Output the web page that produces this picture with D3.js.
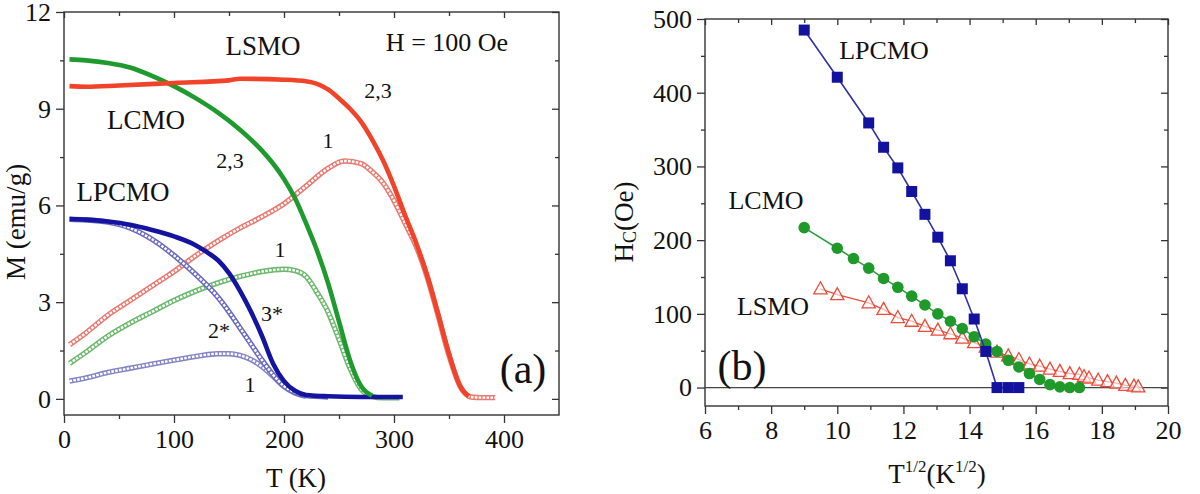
<!DOCTYPE html>
<html><head><meta charset="utf-8">
<script src="https://cdn.jsdelivr.net/npm/d3@7"></script>
<style>
html,body{margin:0;padding:0;background:#fff;}
svg{display:block;}
</style></head>
<body>
<svg id="chart" width="1200" height="494"></svg>
<script>
// ---------- Panel (a): M vs T ----------
const aTempTicks = [0, 100, 200, 300, 400];
const aTempMinor = [50, 150, 250, 350];
const aMTicks = [0, 3, 6, 9, 12];
const aMMinor = [1.5, 4.5, 7.5, 10.5];

// LSMO
const lsmoFC_T = [5, 20, 50, 100, 150, 160, 200, 220, 230, 240, 250, 260, 270, 280, 290, 300, 310, 320, 330, 340, 350, 360, 368];
const lsmoFC_M = [9.7, 9.68, 9.72, 9.8, 9.88, 9.93, 9.9, 9.85, 9.77, 9.6, 9.32, 9.0, 8.6, 8.05, 7.4, 6.6, 5.7, 4.85, 3.85, 2.65, 1.4, 0.4, 0.08];
const lsmoZFC_T = [5, 20, 40, 60, 80, 100, 120, 140, 160, 180, 200, 220, 240, 255, 270, 280, 290, 300, 310, 320, 330, 340, 350, 360, 370, 380, 392];
const lsmoZFC_M = [1.68, 2.05, 2.6, 3.05, 3.5, 3.95, 4.45, 4.9, 5.3, 5.65, 6.05, 6.6, 7.15, 7.38, 7.3, 7.05, 6.7, 6.15, 5.45, 4.75, 3.8, 2.6, 1.35, 0.4, 0.06, 0.04, 0.04];
// LCMO
const lcmoFC_T = [5, 20, 40, 60, 80, 100, 120, 140, 160, 180, 190, 200, 210, 220, 230, 240, 250, 260, 270, 280];
const lcmoFC_M = [10.53, 10.5, 10.42, 10.28, 10.02, 9.7, 9.32, 8.88, 8.35, 7.7, 7.3, 6.82, 6.22, 5.45, 4.6, 3.6, 2.4, 1.2, 0.4, 0.1];
const lcmoZFC_T = [5, 20, 40, 60, 80, 100, 120, 140, 160, 180, 200, 210, 220, 230, 240, 250, 260, 270, 280, 290, 305];
const lcmoZFC_M = [1.1, 1.45, 1.95, 2.35, 2.7, 3.05, 3.35, 3.6, 3.8, 3.95, 4.02, 3.98, 3.8, 3.3, 2.7, 1.85, 0.95, 0.3, 0.08, 0.03, 0.03];
// LPCMO
const lpcmoFC_T = [5, 20, 40, 60, 80, 100, 120, 130, 140, 150, 160, 170, 180, 190, 200, 210, 220, 240, 270, 308];
const lpcmoFC_M = [5.58, 5.56, 5.5, 5.4, 5.24, 5.04, 4.76, 4.55, 4.3, 3.9, 3.35, 2.7, 1.95, 1.1, 0.55, 0.25, 0.12, 0.08, 0.06, 0.06];
const lpcmoZFC2_T = [5, 20, 40, 60, 80, 100, 120, 140, 150, 160, 170, 180, 190, 200, 210, 220, 240];
const lpcmoZFC2_M = [5.57, 5.55, 5.48, 5.3, 4.95, 4.45, 3.85, 3.15, 2.7, 2.2, 1.7, 1.2, 0.75, 0.4, 0.2, 0.1, 0.06];
const lpcmoZFC1_T = [5, 20, 40, 60, 80, 100, 120, 140, 150, 160, 170, 180, 190, 200, 210, 220];
const lpcmoZFC1_M = [0.55, 0.65, 0.82, 0.95, 1.08, 1.2, 1.32, 1.4, 1.4, 1.35, 1.22, 1.0, 0.7, 0.38, 0.18, 0.08];

// ---------- Panel (b): Hc vs sqrt(T) ----------
const bXTicks = [6, 8, 10, 12, 14, 16, 18, 20];
const bXMinor = [7, 9, 11, 13, 15, 17, 19];
const bYTicks = [0, 100, 200, 300, 400, 500];
const bYMinor = [50, 150, 250, 350, 450];

const lpcmoHc_X = [9, 10, 10.95, 11.4, 11.83, 12.25, 12.65, 13.04, 13.42, 13.78, 14.14, 14.49, 14.83, 15.17, 15.49];
const lpcmoHc_Y = [485, 421, 359, 326, 298, 266, 235, 204, 172, 134, 93, 49, 0, 0, 0];
const lcmoHc_X = [9, 10, 10.49, 10.95, 11.4, 11.83, 12.25, 12.65, 13.04, 13.42, 13.78, 14.14, 14.49, 14.83, 15.17, 15.49, 15.81, 16.12, 16.43, 16.73, 17.03, 17.32];
const lcmoHc_Y = [217, 189, 175, 162, 148, 136, 124, 112, 100, 90, 80, 69, 59, 49, 37, 28, 19, 11, 4, 1, 0, 0];
const lsmoHc_X = [9.49, 10, 10.95, 11.4, 11.83, 12.25, 12.65, 13.04, 13.42, 13.78, 14.14, 14.49, 14.83, 15.17, 15.49, 15.81, 16.12, 16.43, 16.73, 17.03, 17.32, 17.46, 17.61, 17.89, 18.17, 18.44, 18.71, 18.97, 19.1];
const lsmoHc_Y = [134, 126, 115, 106, 95, 90, 83, 78, 73, 67, 61, 55, 48, 43, 38, 32, 29, 25, 22, 19, 18, 15, 13, 10, 8, 6, 3, 2, 1];

const svg = d3.select("#chart");
const FONT = '"Liberation Serif", "Times New Roman", Times, "DejaVu Serif", serif';
const AX = "#333";

function zip(a, b) { return a.map((v, i) => [v, b[i]]); }

function frame(g, x, y, xMaj, xMin, yMaj, yMin) {
  const [x0, x1] = x.range(), [y0, y1] = y.range();
  g.append("g").attr("transform", `translate(0,${y0})`)
    .call(d3.axisBottom(x).tickValues(xMaj).tickSize(8).tickPadding(7).tickFormat(d3.format("d")));
  g.append("g").attr("transform", `translate(0,${y0})`)
    .call(d3.axisBottom(x).tickValues(xMin).tickSize(4).tickFormat(""));
  g.append("g").attr("transform", `translate(0,${y1})`)
    .call(d3.axisBottom(x).tickValues(xMaj).tickSize(6).tickFormat(""));
  g.append("g").attr("transform", `translate(0,${y1})`)
    .call(d3.axisBottom(x).tickValues(xMin).tickSize(4).tickFormat(""));
  g.append("g").attr("transform", `translate(${x0},0)`)
    .call(d3.axisLeft(y).tickValues(yMaj).tickSize(8).tickPadding(5).tickFormat(d3.format("d")));
  g.append("g").attr("transform", `translate(${x0},0)`)
    .call(d3.axisLeft(y).tickValues(yMin).tickSize(4).tickFormat(""));
  g.append("g").attr("transform", `translate(${x1},0)`)
    .call(d3.axisLeft(y).tickValues(yMaj).tickSize(7).tickFormat(""));
  g.append("g").attr("transform", `translate(${x1},0)`)
    .call(d3.axisLeft(y).tickValues(yMin).tickSize(4).tickFormat(""));
  g.selectAll(".domain").remove();
  g.selectAll("g").attr("font-family", null).attr("font-size", null);
  g.selectAll(".tick line").attr("stroke", AX).attr("stroke-width", 1.3);
  g.selectAll(".tick text").style("font-family", FONT).style("font-size", "26px").attr("fill", "#111");
  g.append("rect").attr("x", x0).attr("y", y1).attr("width", x1 - x0).attr("height", y0 - y1)
    .attr("fill", "none").attr("stroke", AX).attr("stroke-width", 1.4);
}

function label(g, x, y, txt, size) {
  return g.append("text").attr("x", x).attr("y", y)
    .style("font-family", FONT).style("font-size", size + "px").attr("fill", "#111")
    .attr("text-anchor", "middle").attr("dominant-baseline", "central").text(txt);
}

// ===== Panel (a) =====
const xa = d3.scaleLinear().domain([0, 450]).range([64, 559]);
const ya = d3.scaleLinear().domain([-0.5, 12]).range([415, 12]);
const ga = svg.append("g");
frame(ga, xa, ya, aTempTicks, aTempMinor, aMTicks, aMMinor);

const lineA = d3.line().x(d => xa(d[0])).y(d => ya(d[1])).curve(d3.curveMonotoneX);

function openCurve(T, M, color) {
  const d = lineA(zip(T, M));
  ga.append("path").attr("d", d).attr("fill", "none").attr("stroke", color).attr("stroke-width", 5.4).attr("stroke-linejoin", "round");
  ga.append("path").attr("d", d).attr("fill", "none").attr("stroke", "#fff").attr("stroke-width", 2.4)
    .attr("stroke-dasharray", "2.6,1.3");
}
function solidCurve(T, M, color) {
  ga.append("path").attr("d", lineA(zip(T, M))).attr("fill", "none").attr("stroke", color)
    .attr("stroke-width", 4.6).attr("stroke-linejoin", "round");
}

openCurve(lsmoZFC_T, lsmoZFC_M, "#e87a72");
openCurve(lcmoZFC_T, lcmoZFC_M, "#6cb86c");
openCurve(lpcmoZFC1_T, lpcmoZFC1_M, "#8585c6");
openCurve(lpcmoZFC2_T, lpcmoZFC2_M, "#6a6ac0");
solidCurve(lpcmoFC_T, lpcmoFC_M, "#1414a0");
solidCurve(lcmoFC_T, lcmoFC_M, "#1f9a2e");
solidCurve(lsmoFC_T, lsmoFC_M, "#f0432a");

label(ga, 263, 46, "LSMO", 27);
label(ga, 447, 42, "H = 100 Oe", 26);
label(ga, 146, 120, "LCMO", 27);
label(ga, 123, 192, "LPCMO", 27);
label(ga, 230, 160, "2,3", 22);
label(ga, 378, 90, "2,3", 22);
label(ga, 328, 140, "1", 22);
label(ga, 280, 249, "1", 22);
label(ga, 272, 313, "3*", 22);
label(ga, 219, 330, "2*", 22);
label(ga, 250, 384, "1", 22);
label(ga, 523, 369, "(a)", 42);
label(ga, 296, 478, "T (K)", 27);
ga.append("text").attr("transform", "translate(16,222) rotate(-90)")
  .style("font-family", FONT).style("font-size", "27px").attr("fill", "#111")
  .attr("text-anchor", "middle").attr("dominant-baseline", "central").text("M (emu/g)");

// ===== Panel (b) =====
const xb = d3.scaleLinear().domain([6, 20]).range([705, 1168]);
const yb = d3.scaleLinear().domain([-25, 500]).range([406, 19]);
const gb = svg.append("g");
frame(gb, xb, yb, bXTicks, bXMinor, bYTicks, bYMinor);
gb.append("line").attr("x1", xb(6)).attr("x2", xb(20)).attr("y1", yb(0)).attr("y2", yb(0))
  .attr("stroke", "#444").attr("stroke-width", 1.2);

const lineB = d3.line().x(d => xb(d[0])).y(d => yb(d[1]));

const lsmoPts = zip(lsmoHc_X, lsmoHc_Y);
gb.append("path").attr("d", lineB(lsmoPts)).attr("fill", "none").attr("stroke", "#e8503c").attr("stroke-width", 1.3);
gb.selectAll(".tri").data(lsmoPts).join("path").attr("class", "tri")
  .attr("transform", d => `translate(${xb(d[0])},${yb(d[1])})`)
  .attr("d", "M0,-7 L6.6,5 L-6.6,5 Z").attr("fill", "#fff").attr("fill-opacity", 0.6)
  .attr("stroke", "#ec4a3a").attr("stroke-width", 1.3);

const lcmoPts = zip(lcmoHc_X, lcmoHc_Y);
gb.append("path").attr("d", lineB(lcmoPts)).attr("fill", "none").attr("stroke", "#2f9a3a").attr("stroke-width", 1.5);
gb.selectAll(".cir").data(lcmoPts).join("circle").attr("class", "cir")
  .attr("cx", d => xb(d[0])).attr("cy", d => yb(d[1])).attr("r", 5.8).attr("fill", "#1f9a2a");

const lpcmoPts = zip(lpcmoHc_X, lpcmoHc_Y);
gb.append("path").attr("d", lineB(lpcmoPts)).attr("fill", "none").attr("stroke", "#3030a8").attr("stroke-width", 1.6);
gb.selectAll(".sq").data(lpcmoPts).join("rect").attr("class", "sq")
  .attr("x", d => xb(d[0]) - 5.5).attr("y", d => yb(d[1]) - 5.5).attr("width", 11).attr("height", 11)
  .attr("fill", "#12129e");

label(gb, 884, 50, "LPCMO", 26);
label(gb, 766, 200, "LCMO", 26);
label(gb, 773, 306, "LSMO", 26);
label(gb, 742, 366, "(b)", 42);

const hc = gb.append("text").attr("transform", "translate(624,222) rotate(-90)")
  .style("font-family", FONT).style("font-size", "27px").attr("fill", "#111")
  .attr("text-anchor", "middle").attr("dominant-baseline", "central");
hc.append("tspan").text("H");
hc.append("tspan").style("font-size", "18px").attr("dy", 6).text("C");
hc.append("tspan").attr("dy", -6).text("(Oe)");

const tx = gb.append("text").attr("x", 937).attr("y", 483)
  .style("font-family", FONT).style("font-size", "27px").attr("fill", "#111").attr("text-anchor", "middle");
tx.append("tspan").text("T");
tx.append("tspan").style("font-size", "17px").attr("dy", -11).text("1/2");
tx.append("tspan").attr("dy", 11).text("(K");
tx.append("tspan").style("font-size", "17px").attr("dy", -11).text("1/2");
tx.append("tspan").attr("dy", 11).text(")");
</script>
</body></html>
